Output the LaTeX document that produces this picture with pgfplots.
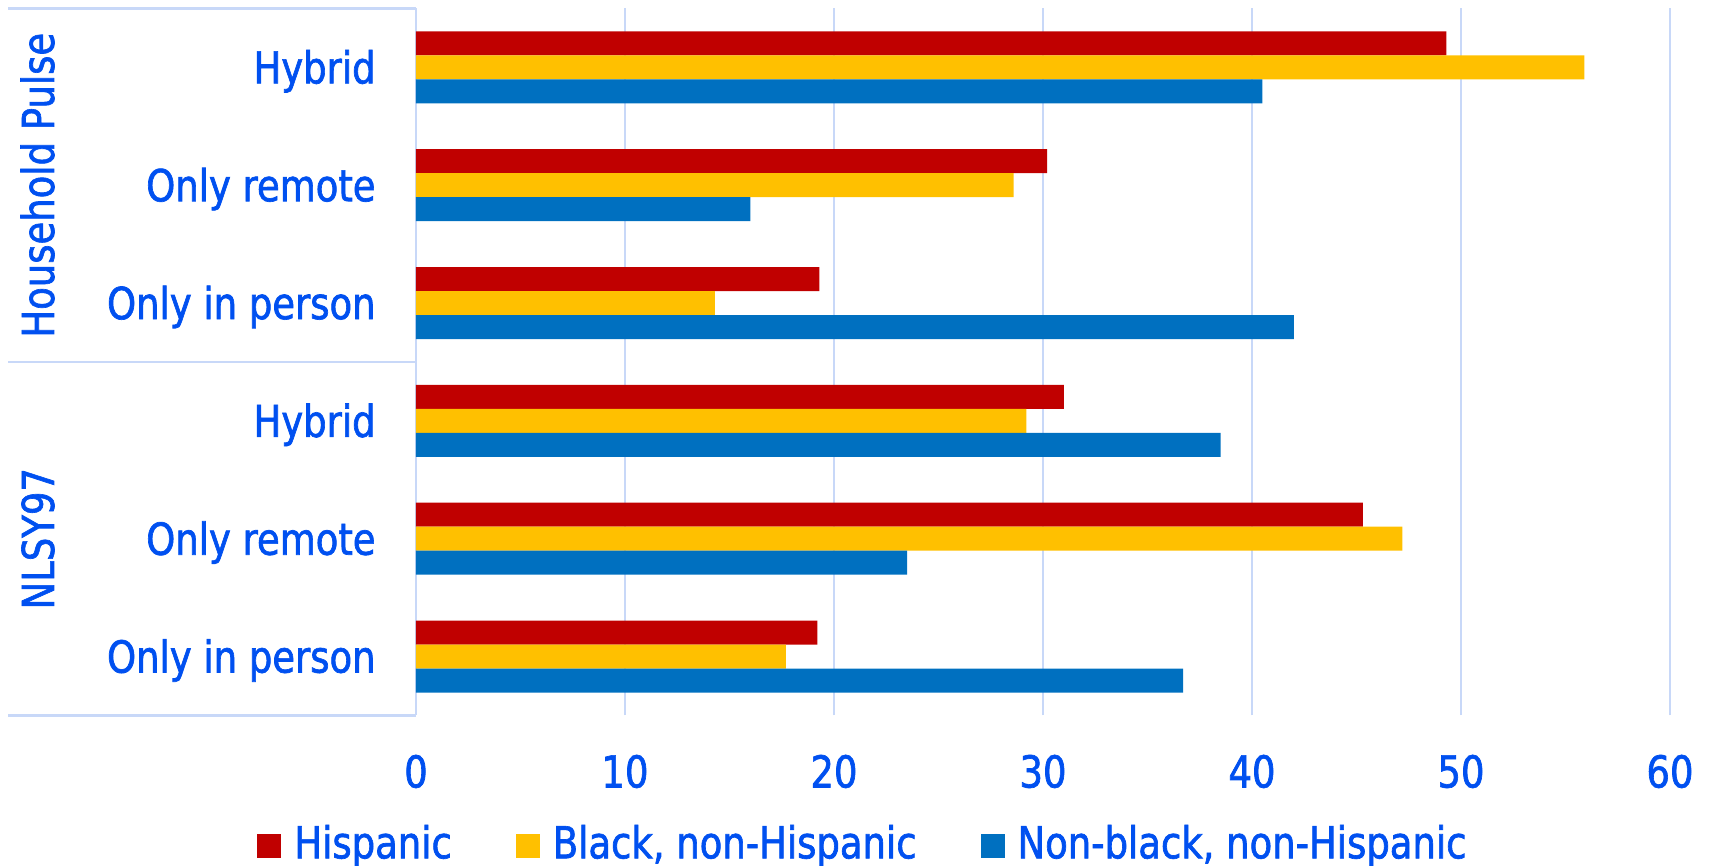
\documentclass[border=0pt]{standalone}
\usepackage{fontspec}
\setmainfont{DejaVu Sans}[FakeStretch=0.84, FakeBold=1.5]
\usepackage{pgfplots}
\pgfplotsset{compat=1.18}

\definecolor{txtblue}{RGB}{0,80,240}
\definecolor{gridblue}{RGB}{200,216,248}
\definecolor{hisp}{RGB}{192,0,0}
\definecolor{black-nh}{RGB}{255,192,0}
\definecolor{other-nh}{RGB}{0,112,192}

\begin{document}
\begin{tikzpicture}[font=\fontsize{22pt}{26pt}\selectfont]
\begin{axis}[
  name=ax, at={(0,0)}, anchor=south west,
  scale only axis, width=627pt, height=353.5pt,
  xbar, bar width=12pt,
  xmin=0, xmax=60, ymin=-0.5, ymax=5.5,
  xtick={0,10,...,60},
  ytick={0,...,5},
  yticklabels={Only in person, Only remote, Hybrid\hspace{7.5pt},
               Only in person, Only remote, Hybrid\hspace{7.5pt}},
  xmajorgrids, major grid style={gridblue, line width=1.1pt},
  axis line style={draw=none}, major tick length=0pt,
  /pgf/number format/assume math mode=true,
  every tick label/.append style={text=txtblue, inner sep=0pt},
  xticklabel style={anchor=base, yshift=-36pt},
  yticklabel style={anchor=base east, xshift=-20pt, yshift=-8pt},
  clip=false,
  legend columns=3,
  legend style={at={(0,0)}, anchor=north west, xshift=-79.5pt, yshift=-54.5pt,
    draw=none, fill=none, inner sep=0pt, text=txtblue,
    nodes={inner sep=0pt, text=txtblue},
    /tikz/every odd column/.append style={column sep=6.5pt},
    /tikz/every even column/.append style={column sep=32pt}},
  legend image code/.code={\path[#1] (0pt,-7.5pt) rectangle (12pt,4.5pt);},
]
\addplot[fill=hisp, draw=none, bar shift=12pt] coordinates {
  (49.3,5) (30.2,4) (19.3,3) (31.0,2) (45.3,1) (19.2,0)};
\addplot[fill=black-nh, draw=none, bar shift=0pt] coordinates {
  (55.9,5) (28.6,4) (14.3,3) (29.2,2) (47.2,1) (17.7,0)};
\addplot[fill=other-nh, draw=none, bar shift=-12pt] coordinates {
  (40.5,5) (16.0,4) (42.0,3) (38.5,2) (23.5,1) (36.7,0)};
\legend{Hispanic, {Black, non-Hispanic}, {Non-black, non-Hispanic}}

% row separators of the category panel
\draw[gridblue, line width=1.1pt] (axis cs:0,5.5) -- ([xshift=-204pt]axis cs:0,5.5);
\draw[gridblue, line width=1.1pt] (axis cs:0,2.5) -- ([xshift=-204pt]axis cs:0,2.5);
\draw[gridblue, line width=1.1pt] (axis cs:0,-0.5) -- ([xshift=-204pt]axis cs:0,-0.5);

% survey group labels
\node[rotate=90, anchor=base, inner sep=0pt, text=txtblue]
  at ([xshift=-181pt]axis cs:0,4) {Household Pulse};
\node[rotate=90, anchor=base, inner sep=0pt, text=txtblue]
  at ([xshift=-181pt]axis cs:0,1) {NLSY97};
\end{axis}
\pgfresetboundingbox
\path[use as bounding box] (-208pt,-75.25pt) rectangle (646.5pt,357.75pt);
\end{tikzpicture}
\end{document}
